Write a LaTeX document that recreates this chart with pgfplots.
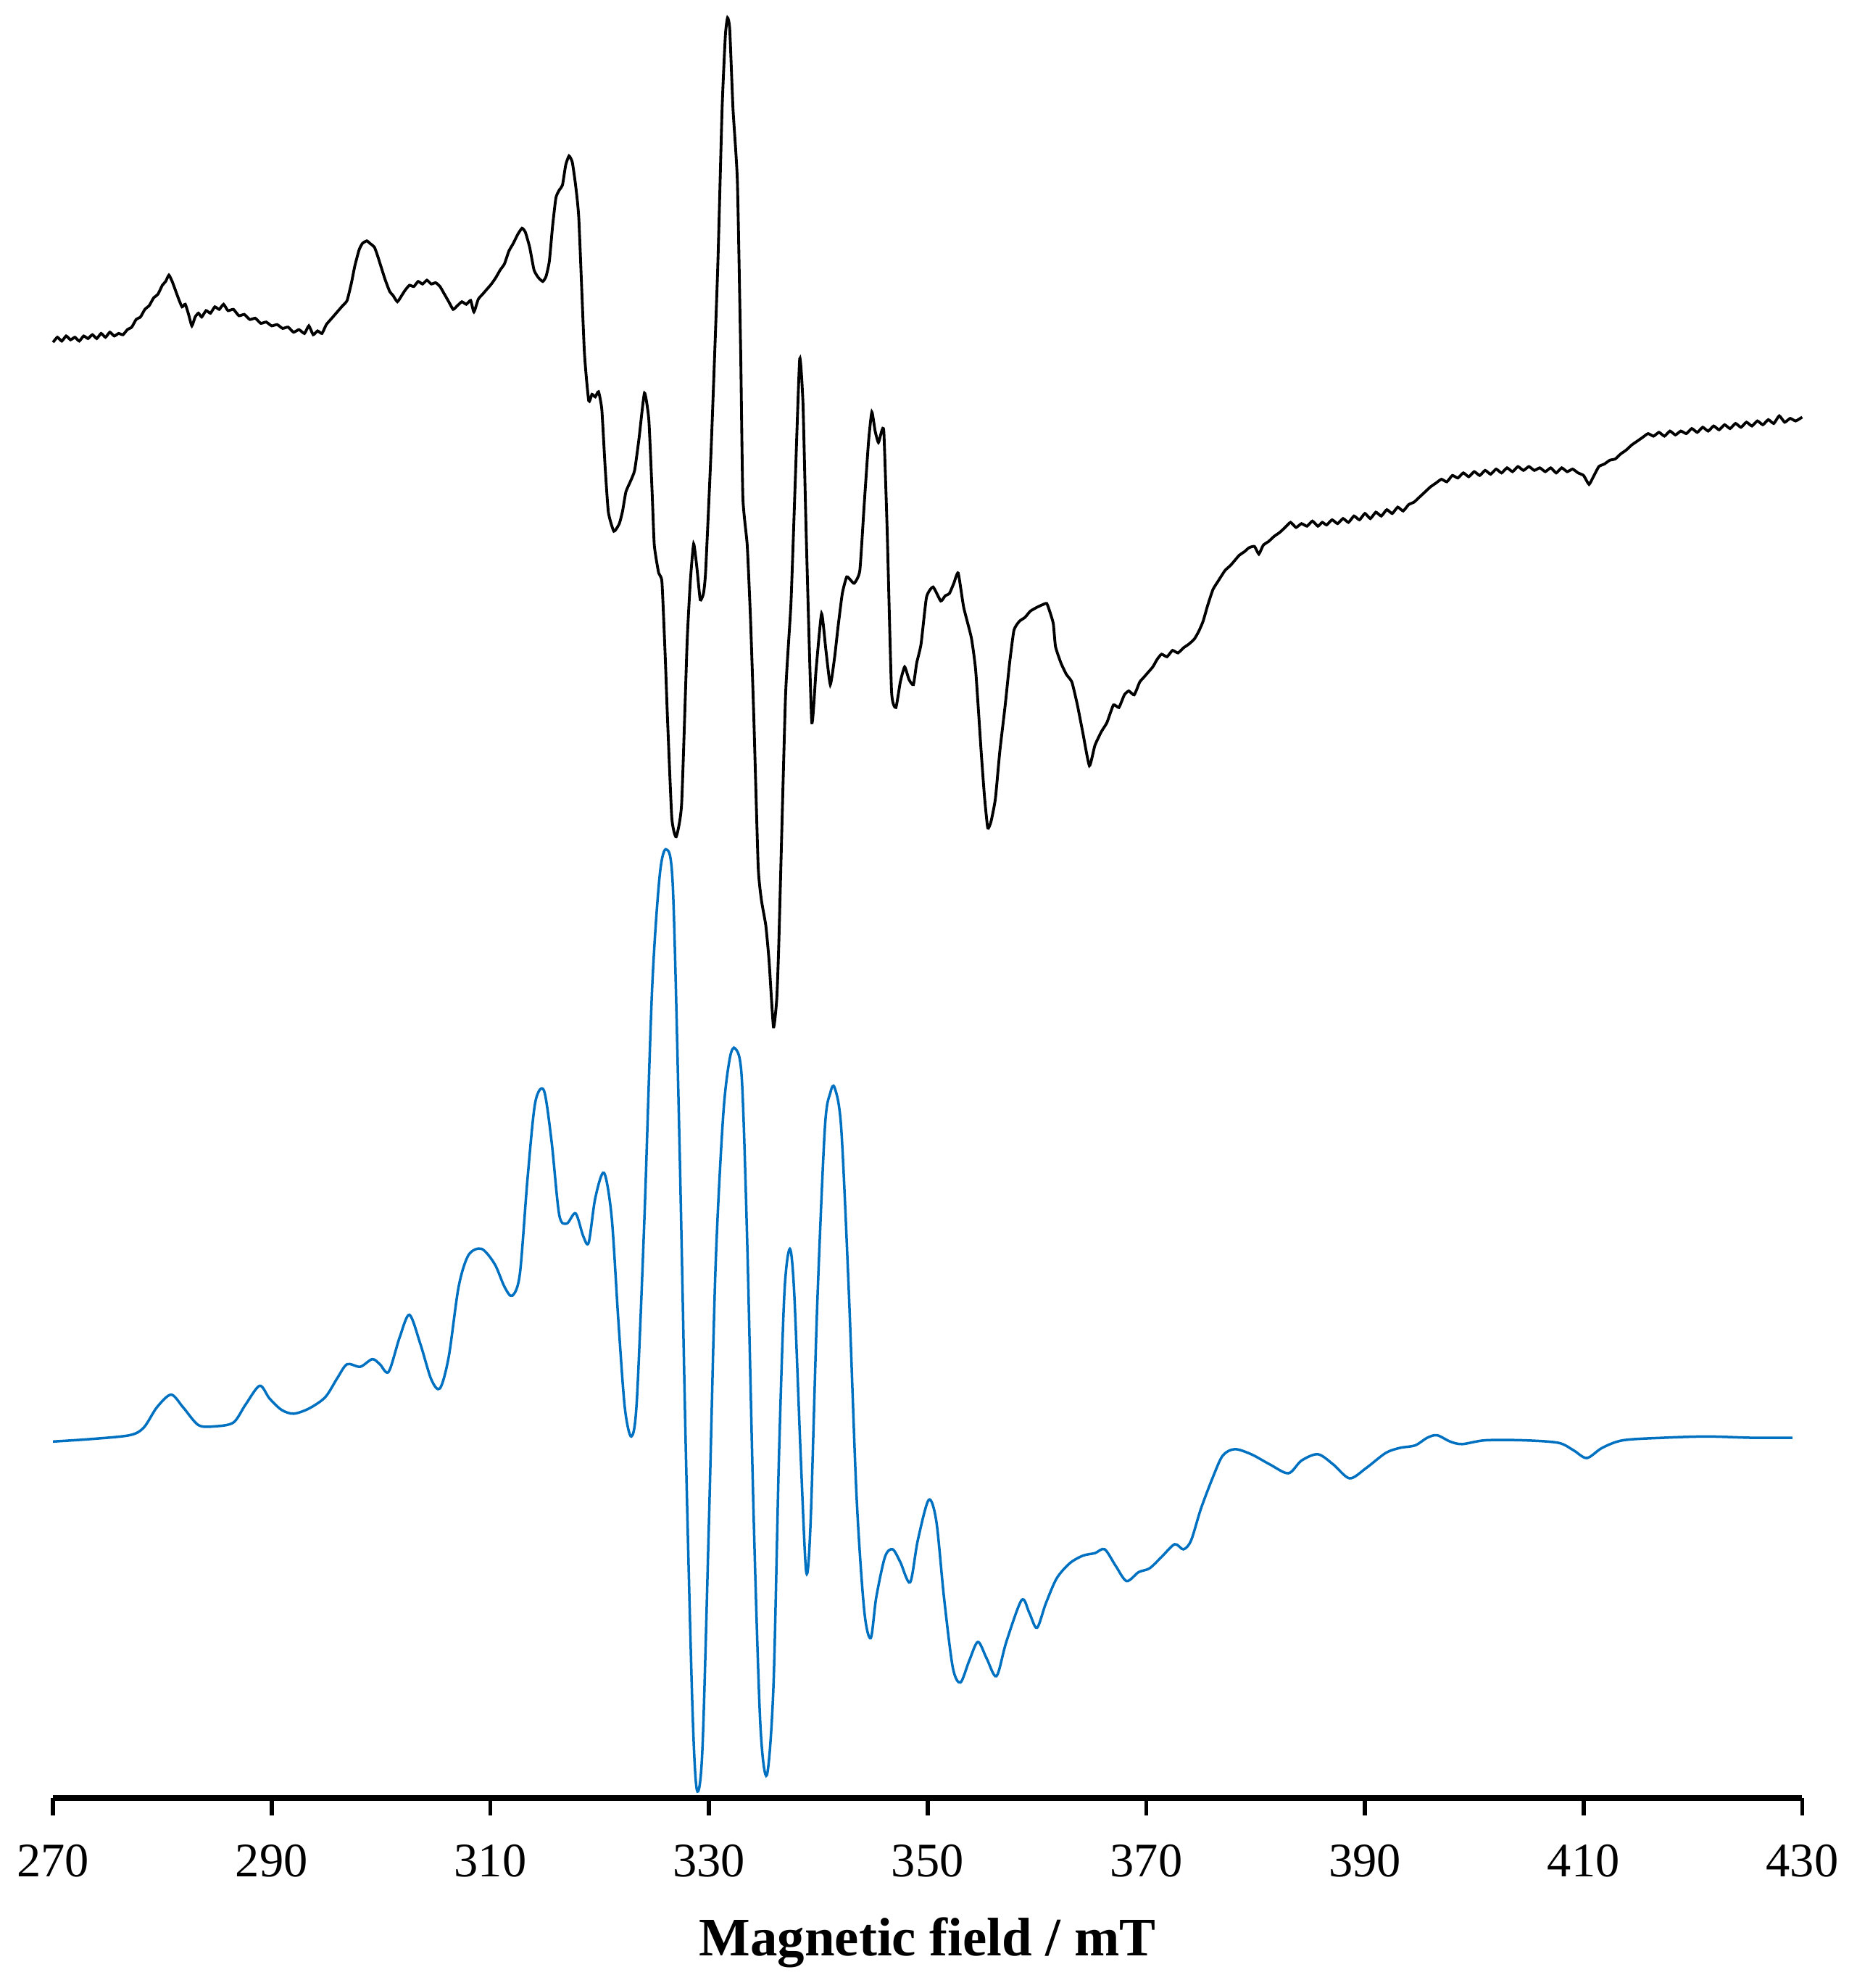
\documentclass[border=0pt]{standalone}
\usepackage{pgfplots}
\pgfplotsset{compat=1.18}
\usepackage{fontspec}
\setmainfont{Liberation Serif}
\definecolor{simblue}{RGB}{0,112,192}
\begin{document}
\begin{tikzpicture}
\path (-10pt,-37.5pt) rectangle (355.75pt,354.5pt);
\begin{axis}[
  scale only axis,
  width=345pt, height=354.5pt,
  xmin=270, xmax=430, ymin=0, ymax=1418,
  axis x line*=bottom,
  hide y axis,
  x axis line style={line width=1.1pt},
  xtick={270,290,...,430},
  tick align=outside,
  major tick length=3.5pt,
  xtick style={line width=0.8pt, black},
  xticklabel style={font=\fontsize{9.5}{11}\selectfont, anchor=center, yshift=-9pt},
  /pgf/number format/assume math mode=true,
  xlabel={Magnetic field / mT},
  xlabel style={font=\fontsize{10.7}{13}\selectfont\bfseries, at={(axis description cs:0.5,0)}, anchor=center, yshift=-28.5pt},
  clip=false,
]
\addplot[black, line width=0.55pt, smooth, tension=0.3] coordinates {
(270.0,1148)(270.4,1152)(270.8,1149)(271.2,1153)(271.6,1150)(272.0,1152)(272.4,1149)(272.8,1153)(273.2,1151)(273.6,1154)(274.0,1151)(274.4,1155)(274.8,1152)(275.2,1156)(275.6,1153)(276.0,1155)(276.4,1154)(276.8,1158)(277.2,1160)(277.6,1166)(278.0,1168)(278.4,1174)(278.8,1177)(279.2,1183)(279.6,1186)(280.0,1193)(280.3,1196)(280.6,1201)(280.9,1196)(281.2,1189)(281.5,1182)(281.8,1176)(282.1,1178)(282.4,1170)(282.7,1161)(283.0,1168)(283.3,1171)(283.6,1168)(284.0,1173)(284.4,1171)(284.8,1176)(285.2,1174)(285.6,1178)(286.0,1173)(286.5,1174)(287.0,1169)(287.5,1170)(288.0,1166)(288.5,1167)(289.0,1163)(289.5,1164)(290.0,1161)(290.5,1162)(291.0,1159)(291.5,1160)(292.0,1156)(292.5,1158)(293.0,1155)(293.4,1161)(293.8,1154)(294.2,1157)(294.6,1155)(295.0,1162)(295.5,1167)(296.0,1172)(296.5,1177)(296.9,1181)(297.3,1195)(297.6,1208)(298.0,1221)(298.3,1226)(298.7,1228)(299.0,1226)(299.4,1223)(299.7,1216)(300.1,1205)(300.4,1197)(300.8,1188)(301.1,1185)(301.5,1180)(301.9,1185)(302.2,1189)(302.6,1193)(303.0,1192)(303.4,1196)(303.8,1194)(304.2,1197)(304.6,1194)(305.0,1195)(305.4,1192)(305.8,1186)(306.2,1180)(306.6,1174)(307.0,1177)(307.4,1180)(307.8,1178)(308.2,1181)(308.5,1172)(308.9,1182)(309.3,1186)(309.7,1190)(310.1,1194)(310.5,1199)(310.9,1205)(311.3,1210)(311.7,1220)(312.1,1226)(312.5,1233)(312.9,1238)(313.2,1235)(313.6,1223)(314.0,1205)(314.4,1199)(314.8,1196)(315.1,1200)(315.4,1212)(315.7,1240)(316.0,1262)(316.3,1268)(316.6,1272)(316.9,1288)(317.2,1295)(317.5,1290)(317.8,1272)(318.1,1245)
(318.6,1141)(319.0,1102)(319.3,1107)(319.6,1105)(319.9,1109)(320.2,1095)(320.5,1050)(320.8,1014)(321.3,999)(321.8,1005)(322.1,1015)(322.4,1030)(322.8,1038)(323.2,1047)(323.6,1072)(324.1,1108)(324.5,1087)(324.8,1030)(325.0,988)(325.4,966)(325.7,959)(326.0,900)(326.2,853)(326.6,773)(327.0,758)(327.5,784)(328.0,911)(328.3,960)(328.6,989)(328.9,970)(329.2,945)(329.5,950)(329.7,968)(330.2,1064)(330.8,1206)(331.2,1332)(331.5,1390)(331.7,1404)(331.9,1395)(332.2,1332)(332.6,1275)(332.9,1141)(333.1,1026)(333.5,988)(333.8,930)(334.1,853)(334.5,735)(334.8,708)(335.2,688)(335.5,660)(335.9,608)(336.2,630)(336.4,677)(337.0,868)(337.5,942)(337.9,1040)(338.3,1135)(338.6,1100)(338.9,995)(339.4,849)(339.8,890)(340.3,934)(340.7,905)(341.1,878)(341.5,900)(341.8,923)(342.2,950)(342.6,963)(343.0,960)(343.3,958)(343.8,968)(344.2,1020)(344.6,1070)(344.9,1093)(345.2,1078)(345.5,1069)(345.8,1078)(346.0,1077)(346.3,1000)(346.7,873)(347.1,860)(347.5,880)(347.9,892)(348.3,882)(348.7,878)(349.0,895)(349.4,910)(349.9,947)(350.5,955)(351.2,944)(351.6,948)(352.0,950)(352.4,958)(352.8,966)(353.3,939)(354.0,915)(354.4,889)(354.9,825)(355.2,790)(355.5,765)(355.8,770)(356.2,788)(356.6,825)(357.1,862)(357.5,895)(357.9,921)(358.4,928)(358.9,931)(359.4,936)(360.0,939)(360.5,941)(360.9,942)(361.2,935)(361.5,926)(361.7,908)(362.2,895)(362.7,886)(363.2,880)(363.7,862)(364.2,840)
(364.8,814)(365.3,830)(365.9,841)(366.4,848)(367.0,862)(367.5,860)(368.0,870)(368.4,873)(368.9,870)(369.4,880)(369.8,884)(370.1,887)(370.6,892)(371.0,898)(371.4,902)(371.9,900)(372.4,905)(372.9,903)(373.4,907)(373.9,910)(374.4,914)(374.8,920)(375.2,928)(375.6,940)(376.1,953)(376.6,960)(377.2,968)(377.7,972)(378.1,976)(378.5,980)(379.0,983)(379.4,986)(379.9,987)(380.3,981)(380.7,988)(381.2,991)(381.7,995)(382.2,998)(382.7,1002)(383.2,1006)(383.7,1002)(384.2,1005)(384.7,1003)(385.2,1007)(385.7,1003)(386.1,1006)(386.5,1004)(387.0,1008)(387.5,1005)(388.0,1009)(388.5,1006)(389.0,1011)(389.5,1008)(390.0,1013)(390.5,1009)(391.0,1014)(391.5,1011)(392.0,1016)(392.5,1013)(393.0,1018)(393.5,1015)(394.0,1020)(394.5,1022)(395.0,1026)(395.5,1030)(396.0,1034)(396.5,1037)(397.0,1040)(397.5,1038)(398.0,1043)(398.5,1041)(399.0,1045)(399.5,1042)(400.0,1046)(400.5,1043)(401.0,1047)(401.5,1044)(402.0,1048)(402.5,1045)(403.0,1049)(403.5,1046)(404.0,1050)(404.5,1047)(405.0,1050)(405.5,1047)(406.0,1049)(406.5,1046)(407.0,1049)(407.5,1045)(408.0,1049)(408.5,1046)(409.0,1048)(409.5,1045)(410.0,1043)(410.5,1036)(410.9,1042)(411.4,1050)(411.9,1052)(412.4,1055)(412.9,1056)(413.4,1060)(413.9,1063)(414.4,1067)(414.9,1070)(415.4,1073)(415.9,1076)(416.4,1074)(416.9,1077)(417.4,1074)(417.9,1078)(418.4,1075)(418.9,1078)(419.4,1076)(419.9,1080)(420.4,1077)(420.9,1081)(421.4,1078)(421.9,1082)(422.4,1079)(422.9,1083)(423.4,1080)(423.9,1084)(424.4,1081)(424.9,1085)(425.4,1082)(425.9,1086)(426.4,1083)(426.9,1087)(427.4,1084)(427.9,1090)(428.4,1085)(428.9,1088)(429.4,1086)(430.0,1089)
};
\addplot[simblue, line width=0.5pt, smooth, tension=0.5] coordinates {
(270.0,281)(273.5,283)(277.0,286)(278.3,292)(279.5,308)(280.8,318)(281.9,308)(283.3,294)(284.8,293)(286.5,296)(287.6,310)(288.9,325)(289.8,315)(290.9,306)(292.0,303)(293.4,307)(294.9,316)(296.0,331)(296.9,342)(298.1,340)(299.2,346)(299.9,342)(300.7,336)(301.7,363)(302.6,381)(303.6,358)(304.6,330)(305.4,323)(306.2,348)(307.1,403)(308.0,428)(309.2,433)(310.4,421)(311.3,403)(312.0,396)(312.7,413)(313.4,488)(314.1,548)(314.9,558)(315.6,518)(316.3,460)(317.0,453)(317.8,461)(318.5,443)(319.0,438)(319.6,473)(320.4,493)(321.1,458)(321.7,378)(322.3,308)(322.9,285)(323.4,313)(324.1,458)(324.8,638)(325.5,728)(326.1,748)(326.7,718)(327.3,518)(327.9,268)(328.5,68)(328.9,6)(329.4,38)(330.0,218)(330.6,418)(331.3,538)(331.9,583)(332.4,591)(333.0,568)(333.5,438)(334.1,218)(334.7,58)(335.3,18)(335.9,88)(336.4,268)(336.9,398)(337.4,433)(337.8,398)(338.4,268)(338.9,178)(339.3,218)(339.9,388)(340.6,528)(341.1,556)(341.5,560)(342.1,528)(342.8,398)(343.5,238)(344.2,148)(344.8,126)(345.3,158)(346.1,190)(346.8,196)(347.5,186)(348.4,170)(349.1,203)(350.1,235)(350.8,218)(351.5,158)(352.3,103)(353.0,91)(353.8,108)(354.6,123)(355.4,110)(356.3,96)(357.2,123)(358.6,156)(359.3,146)(360.0,134)(360.8,153)(361.8,173)(363.0,185)(364.2,191)(365.3,193)(366.2,196)(367.2,183)(368.2,171)(369.3,178)(370.3,181)(371.4,190)(372.6,200)(373.4,196)(374.1,203)(375.0,228)(376.1,253)(377.0,270)(378.1,275)(379.6,271)(381.3,263)(383.0,256)(384.2,266)(385.7,271)(387.1,263)(388.6,252)(390.1,260)(391.9,272)(393.2,276)(394.6,278)(395.7,284)(396.6,286)(397.8,281)(398.9,279)(401.0,282)(404.5,282)(407.7,280)(409.1,274)(410.3,268)(411.7,276)(413.6,282)(417.3,284)(421.3,285)(425.4,284)(429.1,284)
};
\end{axis}
\end{tikzpicture}
\end{document}
